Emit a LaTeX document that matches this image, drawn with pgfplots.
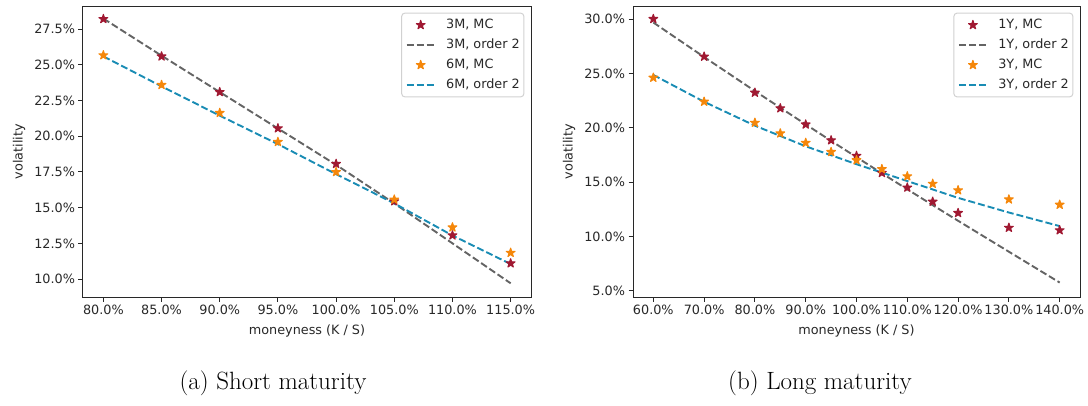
\documentclass[border=0pt]{standalone}
\usepackage{fontspec}
\usepackage{pgfplots}
\pgfplotsset{compat=1.18}
\newfontfamily\djv{DejaVu Sans}
\definecolor{mcred}{RGB}{160,25,50}
\definecolor{mcorange}{RGB}{245,135,10}
\definecolor{ordgray}{RGB}{100,100,100}
\definecolor{ordblue}{RGB}{25,140,180}
\definecolor{axcol}{RGB}{40,40,40}

\pgfdeclareplotmark{fstar}{%
 \pgfpathmoveto{\pgfpointpolar{90}{\pgfplotmarksize}}%
 \pgfpathlineto{\pgfpointpolar{126}{0.382\pgfplotmarksize}}%
 \pgfpathlineto{\pgfpointpolar{162}{\pgfplotmarksize}}%
 \pgfpathlineto{\pgfpointpolar{198}{0.382\pgfplotmarksize}}%
 \pgfpathlineto{\pgfpointpolar{234}{\pgfplotmarksize}}%
 \pgfpathlineto{\pgfpointpolar{270}{0.382\pgfplotmarksize}}%
 \pgfpathlineto{\pgfpointpolar{306}{\pgfplotmarksize}}%
 \pgfpathlineto{\pgfpointpolar{342}{0.382\pgfplotmarksize}}%
 \pgfpathlineto{\pgfpointpolar{18}{\pgfplotmarksize}}%
 \pgfpathlineto{\pgfpointpolar{54}{0.382\pgfplotmarksize}}%
 \pgfpathclose
 \pgfusepathqfillstroke
}

\pgfplotsset{
 mystyle/.style={
  scale only axis, height=291pt,
  axis line style={axcol, line width=1pt},
  tick style={axcol, line width=1pt},
  tick align=outside, major tick length=4.5pt,
  tick pos=left,
  every tick label/.append style={font=\djv\fontsize{12.8}{15.4}\selectfont, text=axcol},
  xlabel={moneyness (K / S)}, ylabel={volatility},
  every axis x label/.style={at={(axis description cs:0.5,0)}, anchor=center, yshift=-34pt, font=\djv\fontsize{12.8}{15.4}\selectfont, text=axcol},
  every axis y label/.style={at={(axis description cs:0,0.5)}, rotate=90, anchor=center, yshift=64pt, font=\djv\fontsize{12.8}{15.4}\selectfont, text=axcol},
  legend cell align=left,
  legend style={at={(1,1)}, anchor=north east, xshift=-6.7pt, yshift=-6.7pt,
    draw=black!18, line width=1pt, rounded corners=3pt, fill=white,
    inner xsep=4pt, inner ysep=5.8pt,
    font=\djv\fontsize{12.8}{15.4}\selectfont, text=axcol,
    nodes={inner sep=0pt, text height=9.5pt, text depth=2.5pt},
    row sep=8pt, /tikz/column sep=10.5pt},
 },
 mc/.style={only marks, mark=fstar, mark size=4.6pt, #1,
   mark options={line width=1.1pt, line join=round},
   legend image code/.code={\draw[mark repeat=2,mark phase=2,##1] plot coordinates {(0pt,0pt) (14pt,0pt) (28pt,0pt)};}},
 ord/.style={no marks, #1, line width=1.9pt, dash pattern=on 7pt off 3pt,
   legend image code/.code={\draw[##1] (0pt,0pt) -- (28pt,0pt);}},
}

\begin{document}
\begin{tikzpicture}
\useasboundingbox (0,0) rectangle (1088pt,-405pt);

% ---------------- (a) short maturity ----------------
\begin{axis}[mystyle, at={(83pt,-6pt)}, anchor=north west, width=448pt,
  xmin=78.25, xmax=116.75, ymin=8.74, ymax=29.13,
  xtick={80,85,90,95,100,105,110,115},
  xticklabels={80.0\%,85.0\%,90.0\%,95.0\%,100.0\%,105.0\%,110.0\%,115.0\%},
  ytick={10,12.5,15,17.5,20,22.5,25,27.5},
  yticklabels={10.0\%,12.5\%,15.0\%,17.5\%,20.0\%,22.5\%,25.0\%,27.5\%},
]
\addplot[mc=mcred] coordinates {(80,28.22) (85,25.6) (90,23.1) (95,20.56) (100,18.07) (105,15.45) (110,13.06) (115,11.1)};
\addlegendentry{3M, MC}
\addplot[ord=ordgray] coordinates {(80,28.25) (85,25.65) (90,23.1) (95,20.55) (100,18.0) (105,15.3) (110,12.5) (115,9.7)};
\addlegendentry{3M, order 2}
\addplot[mc=mcorange] coordinates {(80,25.68) (85,23.6) (90,21.64) (95,19.61) (100,17.5) (105,15.57) (110,13.62) (115,11.84)};
\addlegendentry{6M, MC}
\addplot[ord=ordblue] coordinates {(80,25.6) (85,23.5) (90,21.45) (95,19.45) (100,17.35) (105,15.3) (110,13.05) (115,11.05)};
\addlegendentry{6M, order 2}
\end{axis}

% ---------------- (b) long maturity ----------------
\begin{axis}[mystyle, at={(633pt,-6pt)}, anchor=north west, width=447pt,
  xmin=56, xmax=144, ymin=4.42, ymax=31.22,
  xtick={60,70,80,90,100,110,120,130,140},
  xticklabels={60.0\%,70.0\%,80.0\%,90.0\%,100.0\%,110.0\%,120.0\%,130.0\%,140.0\%},
  ytick={5,10,15,20,25,30},
  yticklabels={5.0\%,10.0\%,15.0\%,20.0\%,25.0\%,30.0\%},
]
\addplot[mc=mcred] coordinates {(60,30.03) (70,26.56) (80,23.24) (85,21.8) (90,20.31) (95,18.85) (100,17.42) (105,15.85) (110,14.5) (115,13.2) (120,12.16) (130,10.8) (140,10.57)};
\addlegendentry{1Y, MC}
\addplot[ord=ordgray] coordinates {(60,29.7) (70,26.52) (80,23.39) (85,21.85) (90,20.32) (95,18.8) (100,17.3) (105,15.81) (110,14.34) (115,12.88) (120,11.44) (130,8.59) (140,5.75)};
\addlegendentry{1Y, order 2}
\addplot[mc=mcorange] coordinates {(60,24.62) (70,22.41) (80,20.47) (85,19.49) (90,18.62) (95,17.78) (100,17.02) (105,16.2) (110,15.54) (115,14.85) (120,14.25) (130,13.41) (140,12.92)};
\addlegendentry{3Y, MC}
\addplot[ord=ordblue] coordinates {(60,24.87) (70,22.4) (80,20.2) (90,18.3) (100,16.65) (110,15.1) (120,13.55) (130,12.2) (140,10.95)};
\addlegendentry{3Y, order 2}
\end{axis}

\node[font=\fontsize{25}{30}\selectfont] at (273pt,-383pt) {(a) Short maturity};
\node[font=\fontsize{25}{30}\selectfont] at (820pt,-383pt) {(b) Long maturity};
\end{tikzpicture}
\end{document}
